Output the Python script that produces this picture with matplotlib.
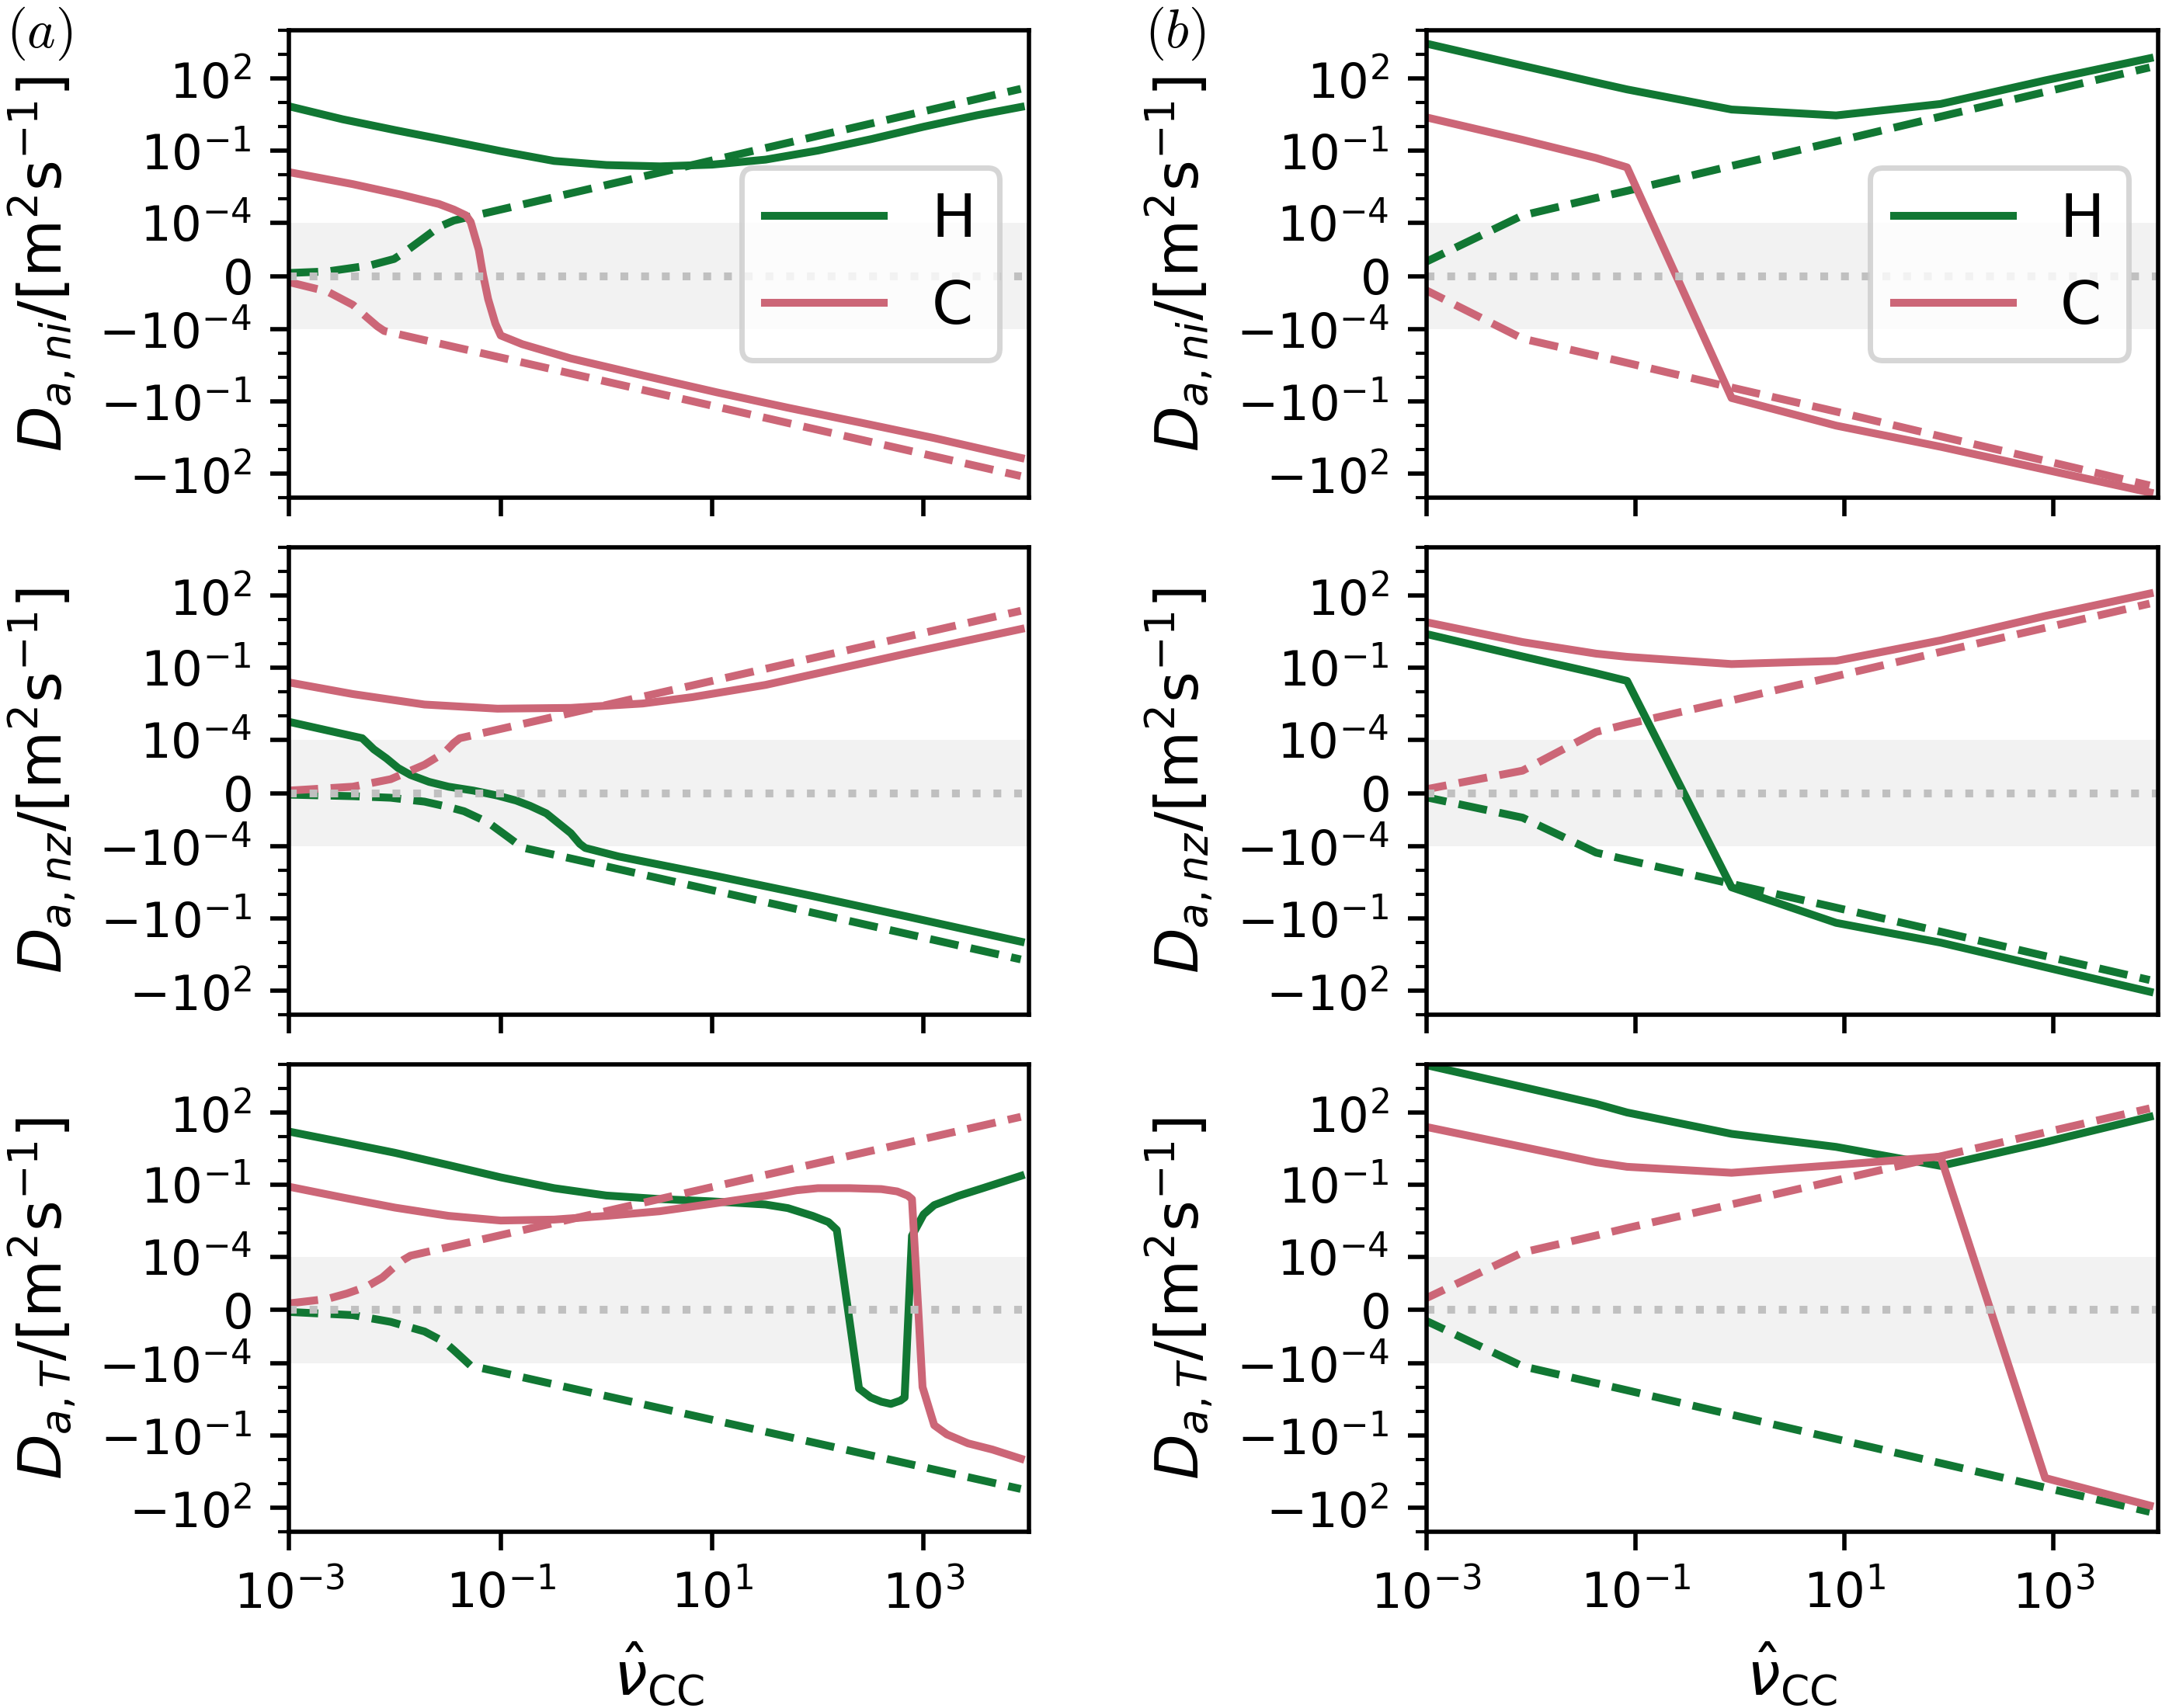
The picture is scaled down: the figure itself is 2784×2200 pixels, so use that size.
import matplotlib
matplotlib.use('Agg')
import matplotlib.pyplot as plt
from matplotlib.ticker import FixedLocator, NullLocator, NullFormatter

green = '#117733'
rose = '#CC6677'

# ---------------- column (a): finely sampled nu_CC ----------------
# D_a,ni
a_ni_H_x = [1e-3, 3.2e-3, 1e-2, 3.2e-2, 0.1, 0.32, 1, 3.2, 10, 32, 100, 320, 1000, 3200, 8300]
a_ni_H = [6.9, 2.0, 0.71, 0.26, 0.095, 0.037, 0.025, 0.022, 0.026, 0.042, 0.10, 0.30, 0.98, 2.95, 6.5]
a_ni_H_dash_x = [1e-3, 2.3e-3, 5.8e-3, 9.8e-3, 1.26e-2, 1.9e-2, 2.6e-2, 3.6e-2, 4.7e-2, 10, 8300]
a_ni_H_dash = [5.8e-6, 8.7e-6, 2.0e-5, 3.2e-5, 4.6e-5, 7.2e-5, 9.2e-5, 1.23e-4, 1.62e-4, 0.039, 37]
a_ni_C_x = [1e-3, 4.0e-3, 1.15e-2, 2.6e-2, 3.6e-2, 4.7e-2, 5.2e-2, 6.2e-2, 6.8e-2, 7.6e-2,
            8.9e-2, 0.1, 0.16, 0.46, 2.2, 11, 52, 257, 1260, 8300]
a_ni_C = [0.0126, 0.004, 1.45e-3, 6.0e-4, 3.5e-4, 2.0e-4, 1.07e-4, 4.9e-5, 3e-6, -4.3e-5,
          -8.9e-5, -1.78e-4, -4.1e-4, -1.6e-3, -8.1e-3, -0.041, -0.18, -0.76, -3.3, -22]
a_ni_C_dash_x = [1e-3, 2.3e-3, 4.0e-3, 5.4e-3, 6.8e-3, 7.9e-3, 8300]
a_ni_C_dash = [-1.14e-5, -2.9e-5, -5.4e-5, -7.7e-5, -9.4e-5, -1.15e-4, -126]

# D_a,nz
a_nz_H_x = [1e-3, 4.9e-3, 6.3e-3, 8.3e-3, 1.07e-2, 1.4e-2, 2.1e-2, 3.2e-2, 5.5e-2, 9.3e-2, 0.14,
            0.19, 0.27, 0.36, 0.46, 0.56, 0.63, 1.3, 11, 89, 741, 8300]
a_nz_H = [5.5e-4, 1.15e-4, 8.2e-5, 6.5e-5, 4.7e-5, 3.4e-5, 2.1e-5, 1.2e-5, 4.7e-6, -4.6e-6, -1.4e-5,
          -2.4e-5, -3.8e-5, -5.8e-5, -7.5e-5, -9.5e-5, -1.15e-4, -2.6e-4, -1.7e-3, -0.0115, -0.087, -0.91]
a_nz_H_dash_x = [1e-3, 4e-3, 9.1e-3, 1.9e-2, 3.2e-2, 4.5e-2, 7.6e-2, 0.115, 0.15, 0.166, 8300]
a_nz_H_dash = [-2.9e-6, -5.8e-6, -8.7e-6, -1.6e-5, -2.6e-5, -3.4e-5, -5.5e-5, -8.1e-5, -9.8e-5, -1.15e-4, -5.0]
a_nz_C_x = [1e-3, 4e-3, 1.9e-2, 9.3e-2, 0.46, 2.2, 6.5, 32, 151, 741, 8300]
a_nz_C = [0.024, 7.9e-3, 2.9e-3, 1.95e-3, 2.1e-3, 3.2e-3, 5.9e-3, 0.019, 0.087, 0.41, 4.0]
a_nz_C_dash_x = [1e-3, 4e-3, 9.1e-3, 1.9e-2, 2.95e-2, 3.6e-2, 4.1e-2, 8300]
a_nz_C_dash = [4.7e-6, 1.2e-5, 2.6e-5, 5.3e-5, 7.6e-5, 9.4e-5, 1.15e-4, 23]

# D_a,T
a_T_H_x = [1e-3, 3.2e-3, 1e-2, 3.2e-2, 0.1, 0.32, 1, 3.2, 10, 32, 52, 89, 126, 151, 245, 316,
           398, 490, 603, 661, 776, 1000, 1260, 2140, 3630, 8300]
a_T_H = [16, 5.8, 2.1, 0.65, 0.20, 0.071, 0.035, 0.025, 0.020, 0.0148, 0.0105, 5.0e-3, 2.75e-3,
         1.3e-3, -1.1e-3, -2.6e-3, -3.9e-3, -4.8e-3, -3.5e-3, -2.6e-3, 7.4e-4, 5.8e-3, 0.014,
         0.034, 0.071, 0.23]
a_T_H_dash_x = [1e-3, 4e-3, 9.1e-3, 1.9e-2, 2.95e-2, 3.6e-2, 4.3e-2, 5.2e-2, 8300]
a_T_H_dash = [-3.5e-6, -9.4e-6, -2.2e-5, -4.0e-5, -6.0e-5, -7.5e-5, -8.9e-5, -1.23e-4, -16.6]
a_T_C_x = [1e-3, 3.2e-3, 1e-2, 3.2e-2, 0.1, 0.32, 1, 3.2, 10, 32, 63, 100, 200, 398, 562, 708,
           776, 891, 977, 1150, 1260, 1660, 2630, 4470, 8300]
a_T_C = [0.081, 0.029, 0.011, 5.0e-3, 3.2e-3, 3.5e-3, 5.0e-3, 7.8e-3, 0.016, 0.034, 0.058, 0.071,
         0.071, 0.065, 0.052, 0.035, 0.025, 0.0, -9.5e-4, -0.01, -0.037, -0.089, -0.21, -0.38, -0.91]
a_T_C_dash_x = [1e-3, 2.3e-3, 3.5e-3, 5.4e-3, 7.6e-3, 1e-2, 1.2e-2, 1.4e-2, 8300]
a_T_C_dash = [1.26e-5, 2.1e-5, 3.1e-5, 4.4e-5, 6.1e-5, 8.2e-5, 9.4e-5, 1.1e-4, 66]

# ---------------- column (b): coarse nu_CC grid ----------------
nu_b = [8.3e-4, 8.3e-3, 4.2e-2, 8.3e-2, 0.83, 8.3, 83, 830, 8300]
b_ni_H = [3390, 339, 68, 35, 5.1, 2.9, 8.7, 83, 692]
b_ni_H_dash = [1.95e-5, 2.0e-4, 1.07e-3, 2.1e-3, 0.023, 0.24, 2.6, 27.5, 288]
b_ni_C = [2.9, 0.28, 0.049, 0.020, -0.071, -1.0, -7.6, -68, -603]
b_ni_C_dash = [-1.9e-5, -2.4e-4, -1.23e-3, -2.45e-3, -0.026, -0.26, -2.8, -29, -309]
b_nz_H = [3.0, 0.29, 0.058, 0.028, -5.0e-3, -0.15, -1.0, -10.5, -110]
b_nz_H_dash = [-4.6e-6, -4.6e-5, -1.8e-4, -3.6e-4, -3.6e-3, -0.035, -0.35, -3.6, -36]
b_nz_C = [9.1, 1.15, 0.38, 0.28, 0.14, 0.19, 1.35, 14, 120]
b_nz_C_dash = [4.2e-6, 4.2e-5, 2.1e-4, 4.4e-4, 4.3e-3, 0.044, 0.45, 4.5, 46]
b_T_H = [11200, 1150, 229, 100, 12.9, 3.7, 0.60, 5.8, 66]
b_T_H_dash = [-1.3e-5, -1.3e-4, -6.6e-4, -1.3e-3, -0.0135, -0.138, -1.4, -14.5, -148]
b_T_C = [29.5, 3.7, 0.85, 0.55, 0.31, 0.65, 1.45, -5.8, -81]
b_T_C_dash = [1.5e-5, 1.5e-4, 7.6e-4, 1.55e-3, 0.015, 0.15, 1.5, 14.8, 148]

ylabels = [r'$D_{a,ni}/[\mathrm{m}^2\mathrm{s}^{-1}]$',
           r'$D_{a,nz}/[\mathrm{m}^2\mathrm{s}^{-1}]$',
           r'$D_{a,T}/[\mathrm{m}^2\mathrm{s}^{-1}]$']

# (H solid, H dashed, C solid, C dashed) as (x, y) pairs per panel
col_a = [
    [(a_ni_H_x, a_ni_H), (a_ni_H_dash_x, a_ni_H_dash), (a_ni_C_x, a_ni_C), (a_ni_C_dash_x, a_ni_C_dash)],
    [(a_nz_H_x, a_nz_H), (a_nz_H_dash_x, a_nz_H_dash), (a_nz_C_x, a_nz_C), (a_nz_C_dash_x, a_nz_C_dash)],
    [(a_T_H_x, a_T_H), (a_T_H_dash_x, a_T_H_dash), (a_T_C_x, a_T_C), (a_T_C_dash_x, a_T_C_dash)],
]
col_b = [
    [(nu_b, b_ni_H), (nu_b, b_ni_H_dash), (nu_b, b_ni_C), (nu_b, b_ni_C_dash)],
    [(nu_b, b_nz_H), (nu_b, b_nz_H_dash), (nu_b, b_nz_C), (nu_b, b_nz_C_dash)],
    [(nu_b, b_T_H), (nu_b, b_T_H_dash), (nu_b, b_T_C), (nu_b, b_T_C_dash)],
]

lw = 1.45
fig = plt.figure(figsize=(5.568, 4.4), dpi=500)
lefts = [0.1338, 0.6598]
widths = [0.3423, 0.3384]
bottoms = [0.7086, 0.4059, 0.1032]
height = 0.2736

for c, col in enumerate([col_a, col_b]):
    for r, curves in enumerate(col):
        ax = fig.add_axes([lefts[c], bottoms[r], widths[c], height])
        ax.set_xscale('log')
        ax.set_yscale('symlog', linthresh=1e-4, linscale=2)
        ax.axhspan(-1e-4, 1e-4, color='#f2f2f2', lw=0, zorder=0)

        (hx, hy), (hdx, hdy), (cx, cy), (cdx, cdy) = curves
        ax.plot(hx, hy, color=green, lw=lw, label='H')
        ax.plot(hdx, hdy, color=green, lw=lw, ls='--')
        ax.plot(cx, cy, color=rose, lw=lw, label='C')
        ax.plot(cdx, cdy, color=rose, lw=lw, ls='--')
        ax.axhline(0, color='#c0c0c0', ls=':', lw=lw)

        ax.set_xlim(1e-3, 1e4)
        ax.set_ylim(-1e3, 1e4)
        ax.xaxis.set_major_locator(FixedLocator([1e-3, 1e-1, 1e1, 1e3]))
        ax.xaxis.set_minor_locator(NullLocator())
        ax.yaxis.set_major_locator(FixedLocator([-1e2, -1e-1, -1e-4, 0, 1e-4, 1e-1, 1e2]))
        ax.yaxis.set_minor_locator(FixedLocator([-1e3, -1e1, -1, -1e-2, -1e-3,
                                                 1e-3, 1e-2, 1, 1e1, 1e3, 1e4]))
        ax.yaxis.set_minor_formatter(NullFormatter())
        ax.tick_params(labelsize=9)
        ax.set_ylabel(ylabels[r], fontsize=11)

        if r < 2:
            ax.tick_params(axis='x', labelbottom=False)
        else:
            ax.set_xlabel(r'$\hat{\nu}_{\mathrm{CC}}$', fontsize=11)
        if r == 0:
            ax.legend(loc='center right', fontsize=11)

fig.text(0.003, 0.997, r'$(a)$', fontsize=10, va='top', ha='left', math_fontfamily='cm')
fig.text(0.5295, 0.997, r'$(b)$', fontsize=10, va='top', ha='left', math_fontfamily='cm')

plt.savefig('out.png', dpi=500)
